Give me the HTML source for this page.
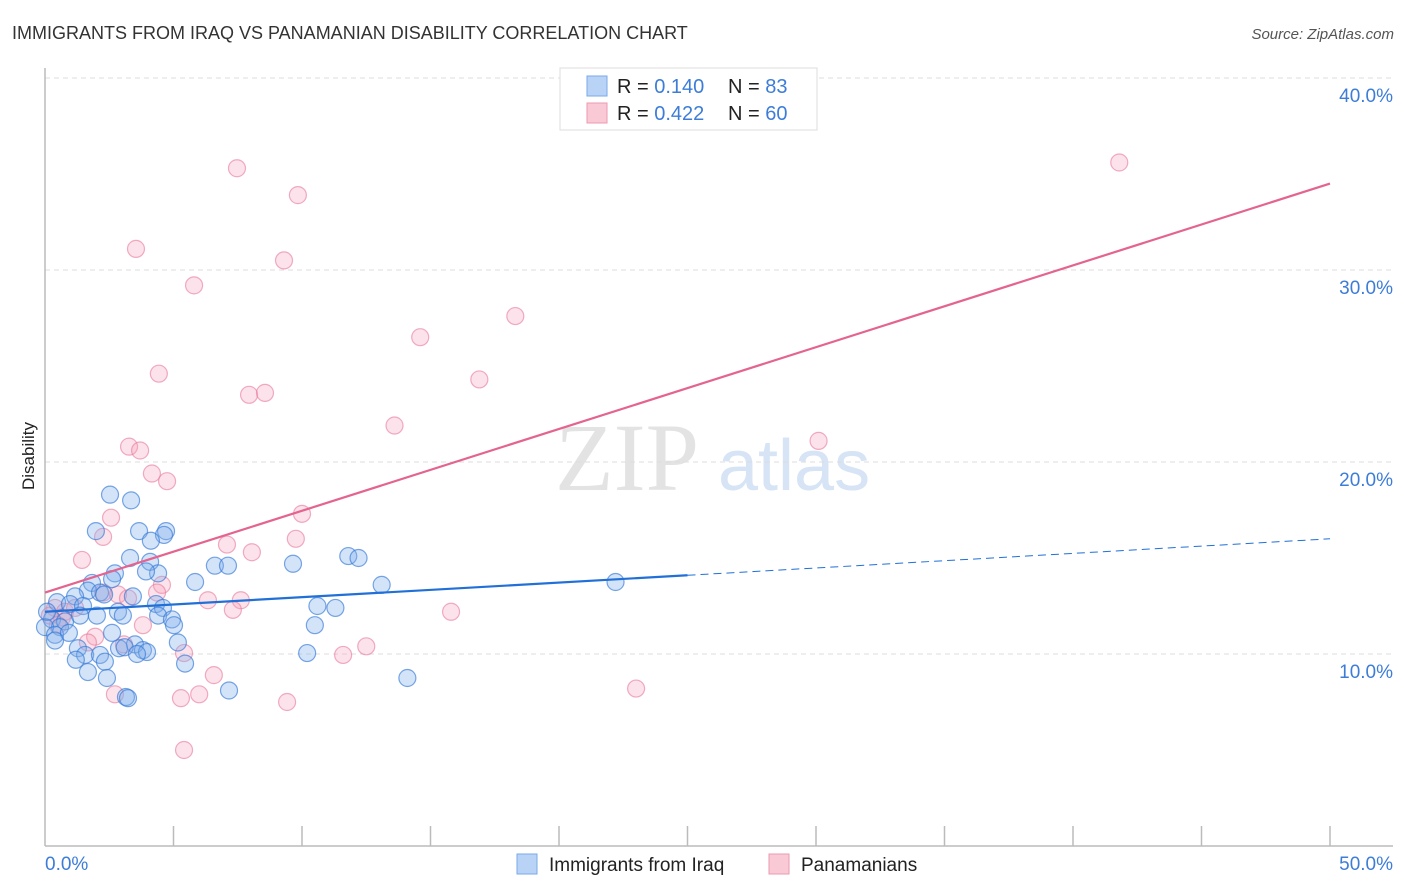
<!DOCTYPE html>
<html><head><meta charset="utf-8"><style>
body{margin:0;background:#fff;font-family:"Liberation Sans",sans-serif;}
svg{display:block}
</style></head><body>
<svg id="chart" width="1406" height="892" xmlns="http://www.w3.org/2000/svg">
<text x="12" y="39" font-size="18" fill="#333" font-family="Liberation Sans, sans-serif">IMMIGRANTS FROM IRAQ VS PANAMANIAN DISABILITY CORRELATION CHART</text>
<text x="1394" y="39" font-size="15" fill="#555" font-style="italic" text-anchor="end">Source: ZipAtlas.com</text>
<text transform="translate(34,456) rotate(-90)" font-size="17" fill="#222" text-anchor="middle">Disability</text>
<g id="watermark">
<text x="555" y="490" font-size="96" fill="#e3e3e3" font-family="Liberation Serif, serif">ZIP</text>
<text x="718" y="490" font-size="72" fill="#d6e4f5">atlas</text>
</g>
<g id="grid"></g>
<g id="axes"></g>
<g id="pts"></g>
<g id="trends"></g>
<g>
<rect x="560" y="68" width="257" height="62" fill="#fff" stroke="#ddd"/>
<rect x="587" y="76" width="20" height="20" fill="#b9d3f6" stroke="#7aa8e8"/>
<rect x="587" y="103" width="20" height="20" fill="#f9c9d6" stroke="#eb9ab2"/>
<text x="617" y="93" font-size="20" fill="#222">R = <tspan fill="#3d7dd8">0.140</tspan></text>
<text x="728" y="93" font-size="20" fill="#222">N = <tspan fill="#3d7dd8">83</tspan></text>
<text x="617" y="120" font-size="20" fill="#222">R = <tspan fill="#3d7dd8">0.422</tspan></text>
<text x="728" y="120" font-size="20" fill="#222">N = <tspan fill="#3d7dd8">60</tspan></text>
</g>
<g>
<rect x="517" y="854" width="20" height="20" fill="#b9d3f6" stroke="#7aa8e8"/>
<text x="549" y="871" font-size="19" fill="#222">Immigrants from Iraq</text>
<rect x="769" y="854" width="20" height="20" fill="#f9c9d6" stroke="#eb9ab2"/>
<text x="801" y="871" font-size="19" fill="#222">Panamanians</text>
</g>
</svg>
<script>
const blueX=[2.53,3.35,1.98,3.66,4.71,4.63,4.12,3.31,4.09,11.8,12.2,9.65,6.61,7.12,4.40,3.93,2.72,2.61,1.83,5.84,13.1,22.2,1.67,1.17,2.14,2.30,3.42,0.47,0.97,1.48,4.32,4.59,10.6,11.3,2.84,2.02,3.03,4.40,4.94,5.02,0.27,0.78,0.58,0,0.39,0.93,2.61,10.5,5.17,3.5,2.88,3.1,1.28,0.39,3.81,3.97,3.58,1.56,2.14,10.2,1.2,2.33,5.45,1.67,2.41,7.16,14.1,3.15,3.23,0.08,1.36];
const blueY=[18.3,18.0,16.4,16.4,16.4,16.2,15.9,15.0,14.8,15.1,15.0,14.7,14.6,14.6,14.2,14.3,14.2,13.9,13.7,13.75,13.6,13.75,13.3,13.0,13.2,13.1,13.0,12.7,12.6,12.5,12.6,12.4,12.5,12.4,12.2,12.0,12.0,12.0,11.8,11.5,11.8,11.7,11.4,11.4,11.0,11.1,11.1,11.5,10.6,10.5,10.3,10.35,10.3,10.7,10.2,10.1,10.0,9.95,9.95,10.05,9.7,9.6,9.5,9.06,8.75,8.1,8.75,7.76,7.7,12.2,12.0];
const pinkX=[41.8,7.47,9.84,3.54,9.30,5.80,18.3,14.6,16.9,4.43,7.94,8.56,13.6,30.1,3.27,3.70,4.16,4.75,2.57,10.0,2.26,9.76,7.08,8.05,1.44,4.55,4.36,2.26,2.84,3.23,6.34,7.62,7.31,15.8,0.39,0.78,1.17,0.66,3.81,1.95,1.67,3.07,5.41,11.6,12.5,6.57,23.0,2.72,5.29,6.0,9.42,5.41,0.19,0.5];
const pinkY=[35.6,35.3,33.9,31.1,30.5,29.2,27.6,26.5,24.3,24.6,23.5,23.6,21.9,21.1,20.8,20.6,19.4,19.0,17.1,17.3,16.1,16.0,15.7,15.3,14.9,13.6,13.2,13.2,13.1,12.9,12.8,12.8,12.3,12.2,12.4,12.2,12.4,11.9,11.5,10.9,10.6,10.5,10.05,9.95,10.4,8.9,8.2,7.9,7.7,7.9,7.5,5.0,12.0,11.5];
const yTicks=[10,20,30,40];
const yTickLabels=["10.0%","20.0%","30.0%","40.0%"];
const xTickLabels=["0.0%","50.0%"];
const blueTrend=[12.2,16.0]; // y at x=0 and x=50
const blueSolidEnd=25;
const pinkTrend=[13.2,34.5];
const NS="http://www.w3.org/2000/svg";
const X=v=>45+v/50*1285, Y=v=>846-v*19.2;
function mk(t,a,p){const e=document.createElementNS(NS,t);for(const k in a)e.setAttribute(k,a[k]);p.appendChild(e);return e;}
const grid=document.getElementById('grid'),axes=document.getElementById('axes');
yTicks.forEach((t,i)=>{
 const l=mk('line',{x1:45,x2:1393,y1:Y(t),y2:Y(t),stroke:'#ddd','stroke-dasharray':'5,4'},grid);
 
 
 const tx=mk('text',{x:1393,y:Y(t)+24,'font-size':19,fill:'#3d7dd8','text-anchor':'end'},axes);
 tx.textContent=yTickLabels[i];
 
 
});
let a=mk('line',{x1:45,x2:45,y1:68,y2:846,stroke:'#bbb','stroke-width':1.5},axes);


a=mk('line',{x1:45,x2:1393,y1:846,y2:846,stroke:'#bbb','stroke-width':1.5},axes);


for(let v=5;v<=50;v+=5){const t=mk('line',{x1:X(v),x2:X(v),y1:826,y2:846,stroke:'#bbb','stroke-width':1.5},axes);
 
 }
[[0,'start',X(0)],[1,'end',1393]].forEach(([i,anc,x])=>{const t=mk('text',{x:x,y:870,'font-size':19,fill:'#3d7dd8','text-anchor':anc},axes);t.textContent=xTickLabels[i];
 
 });
const pts=document.getElementById('pts');
pinkX.forEach((x,i)=>{const c=mk('circle',{cx:X(x),cy:Y(pinkY[i]),r:8.5,fill:'rgba(244,160,186,0.3)',stroke:'rgba(232,120,155,0.6)','stroke-width':1.2},pts);
 
 });
blueX.forEach((x,i)=>{const c=mk('circle',{cx:X(x),cy:Y(blueY[i]),r:8.5,fill:'rgba(130,175,235,0.35)',stroke:'rgba(50,120,215,0.65)','stroke-width':1.2},pts);
 
 });
const tr=document.getElementById('trends');
const bAt=v=>blueTrend[0]+(blueTrend[1]-blueTrend[0])*v/50;
let l=mk('line',{x1:X(0),y1:Y(pinkTrend[0]),x2:X(50),y2:Y(pinkTrend[1]),stroke:'#e4648f','stroke-width':2.2},tr);


l=mk('line',{x1:X(0),y1:Y(bAt(0)),x2:X(blueSolidEnd),y2:Y(bAt(blueSolidEnd)),stroke:'#2170d8','stroke-width':2.2},tr);


l=mk('line',{x1:X(blueSolidEnd),y1:Y(bAt(blueSolidEnd)),x2:X(50),y2:Y(bAt(50)),stroke:'#2170d8','stroke-width':1,'stroke-dasharray':'8,5'},tr);


</script>
</body></html>
